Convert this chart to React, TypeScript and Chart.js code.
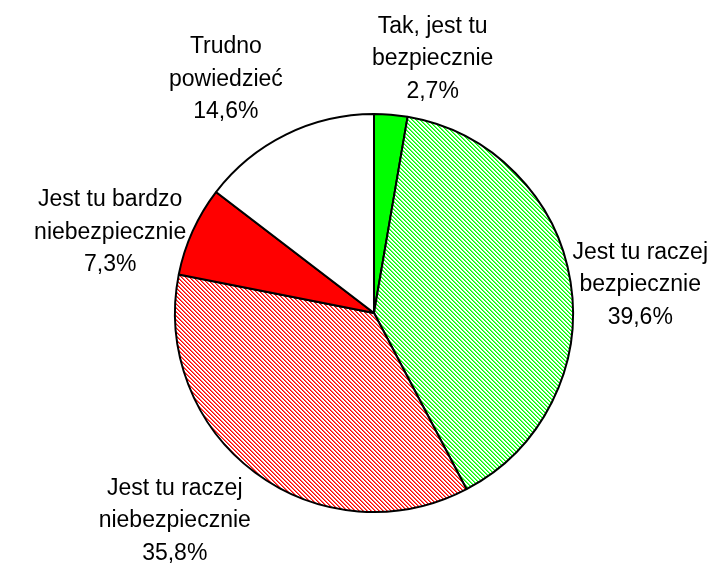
import React, { useEffect, useRef } from "react";
import { Chart, registerables } from "chart.js";

Chart.register(...registerables);

const categories: string[][] = [
  ["Tak, jest tu", "bezpiecznie"],
  ["Jest tu raczej", "bezpiecznie"],
  ["Jest tu raczej", "niebezpiecznie"],
  ["Jest tu bardzo", "niebezpiecznie"],
  ["Trudno", "powiedzieć"],
];
const values: number[] = [2.7, 39.6, 35.8, 7.3, 14.6];
const valueLabels: string[] = ["2,7%", "39,6%", "35,8%", "7,3%", "14,6%"];

function makePattern(color: string, light: string): CanvasPattern | string {
  const c = document.createElement("canvas");
  c.width = 4;
  c.height = 4;
  const ctx = c.getContext("2d");
  if (!ctx) return color;
  ctx.fillStyle = "#ffffff";
  ctx.fillRect(0, 0, 4, 4);
  for (let y = 0; y < 4; y++) {
    for (let x = 0; x < 4; x++) {
      const d = (((x - y) % 4) + 4) % 4;
      if (d === 0) {
        ctx.fillStyle = color;
        ctx.fillRect(x, y, 1, 1);
      } else if (d === 1) {
        ctx.fillStyle = light;
        ctx.fillRect(x, y, 1, 1);
      }
    }
  }
  const p = ctx.createPattern(c, "repeat");
  return p || color;
}

const labelPlugin = {
  id: "outLabels",
  afterDatasetsDraw(chart: any) {
    const ctx = chart.ctx as CanvasRenderingContext2D;
    const meta = chart.getDatasetMeta(0);
    const fontSize = 23;
    const lineH = 32.5;
    ctx.save();
    ctx.font = `${fontSize}px "Liberation Sans", Arial, sans-serif`;
    ctx.fillStyle = "#000";
    ctx.textBaseline = "middle";
    meta.data.forEach((arc: any, i: number) => {
      const { x, y, startAngle, endAngle, outerRadius } = arc.getProps(
        ["x", "y", "startAngle", "endAngle", "outerRadius"],
        true
      );
      const mid = (startAngle + endAngle) / 2;
      const r = outerRadius + 7;
      const px = x + Math.cos(mid) * r;
      const py = y + Math.sin(mid) * r;
      const lines = [...categories[i], valueLabels[i]];
      const W = Math.max(...lines.map((l) => ctx.measureText(l).width));
      const H = lines.length * lineH;
      const s = Math.cos(mid);
      const c = -Math.sin(mid);
      const fx = Math.sign(s) * Math.min(1, Math.abs(s) * 8);
      const fy = Math.sign(c) * Math.min(1, Math.max(0, (Math.abs(c) - 0.45) / 0.4));
      let cx = px + fx * (W / 2);
      const cy = py - fy * (H / 2) + (Math.abs(fy) < 0.01 ? 4 : 0);
      const maxX = chart.width - 4 - W / 2;
      const minX = 4 + W / 2;
      cx = Math.max(minX, Math.min(maxX, cx));
      ctx.textAlign = "center";
      lines.forEach((l, k) => {
        ctx.fillText(l, cx, cy - H / 2 + lineH * (k + 0.5));
      });
    });
    ctx.restore();
  },
};

export default function App() {
  const ref = useRef<HTMLCanvasElement | null>(null);
  useEffect(() => {
    document.body.style.margin = "0";
    const canvas = ref.current;
    if (!canvas) return;
    const colors = [
      "#00ff00",
      makePattern("#00ff00", "#66ff66"),
      makePattern("#ff0000", "#ff6666"),
      "#ff0000",
      "#ffffff",
    ];
    const chart = new Chart(canvas, {
      type: "pie",
      data: {
        labels: categories.map((c) => c.join(" ")),
        datasets: [
          {
            data: values,
            backgroundColor: colors as any,
            borderColor: "#000000",
            borderWidth: 2,
          },
        ],
      },
      options: {
        animation: false,
        responsive: false,
        maintainAspectRatio: false,
        radius: 199,
        layout: { padding: { left: 36, right: 0, top: 59, bottom: 0 } },
        plugins: {
          legend: { display: false },
          tooltip: { enabled: false },
        },
      } as any,
      plugins: [labelPlugin],
    });
    return () => chart.destroy();
  }, []);
  return (
    <div style={{ width: 712, height: 567, background: "#fff" }}>
      <canvas ref={ref} width={712} height={567} style={{ display: "block" }} />
    </div>
  );
}
